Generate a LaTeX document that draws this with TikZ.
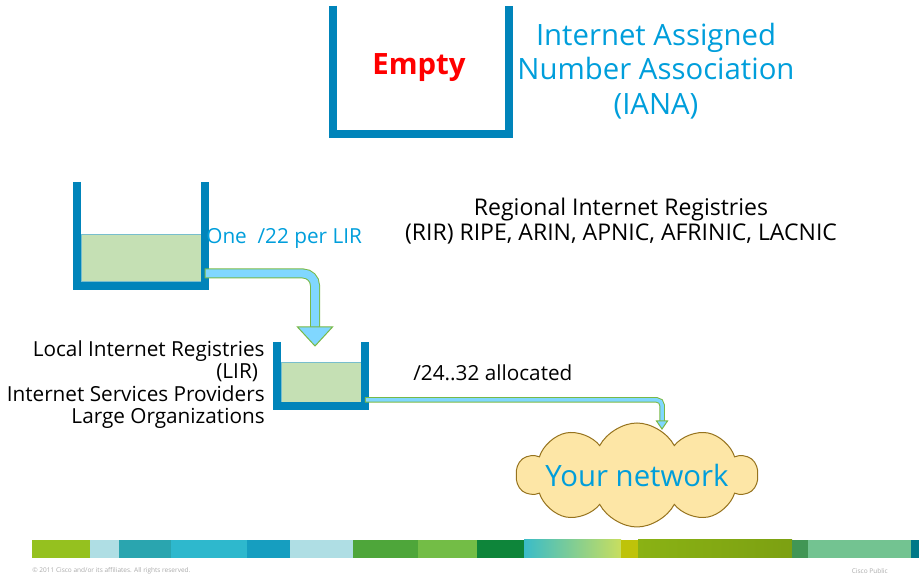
\documentclass[tikz,border=0pt]{standalone}
\usepackage{fontspec}
\setmainfont{Open Sans}
\usetikzlibrary{arrows.meta,positioning,calc,shapes.symbols}
\definecolor{bucketblue}{RGB}{0,132,186}
\definecolor{labelblue}{RGB}{0,158,219}
\definecolor{emptyred}{RGB}{255,0,0}
\definecolor{liquidgreen}{RGB}{197,224,180}
\definecolor{liquidedge}{RGB}{120,190,205}
\definecolor{pipefill}{RGB}{128,215,255}
\definecolor{pipeedge}{RGB}{120,185,70}
\definecolor{cloudfill}{RGB}{253,230,166}
\definecolor{cloudedge}{RGB}{150,115,30}
\definecolor{footgray}{RGB}{170,170,170}
\definecolor{barA}{RGB}{149,193,31}
\definecolor{barB}{RGB}{175,222,228}
\definecolor{barC}{RGB}{42,165,175}
\definecolor{barD}{RGB}{46,184,205}
\definecolor{barE}{RGB}{22,158,192}
\definecolor{barG}{RGB}{78,166,58}
\definecolor{barH}{RGB}{115,189,70}
\definecolor{barI}{RGB}{14,133,58}
\definecolor{barF}{RGB}{58,188,200}
\definecolor{barFF}{RGB}{200,222,95}
\definecolor{barJ}{RGB}{190,195,10}
\definecolor{barK}{RGB}{138,178,20}
\definecolor{barL}{RGB}{65,150,85}
\definecolor{barM}{RGB}{115,195,145}
\definecolor{barN}{RGB}{0,120,135}
\begin{document}
\begin{tikzpicture}[
  every node/.style={inner sep=0pt},
  big/.style={font=\fontsize{16.7}{19.8}\selectfont},
  mid/.style={font=\fontsize{13.1}{14.7}\selectfont},
  small/.style={font=\fontsize{11.8}{12.8}\selectfont},
  wall/.style={draw=bucketblue,line width=0.16cm},
  liquid/.style={fill=liquidgreen,draw=liquidedge,line width=0.02cm},
  pipe/.style={draw=pipeedge,line width=0.02cm,double=pipefill,double distance=0.16cm,line cap=rect,rounded corners=0.24cm},
  thinpipe/.style={pipe,double distance=0.07cm,rounded corners=0.1cm},
  pipehead/.style={fill=pipefill,draw=pipeedge,line width=0.02cm},
  foot/.style={text=footgray,font=\fontsize{3.7}{4.5}\selectfont}]
\useasboundingbox (0,0) rectangle (18.38,-11.5);
% IANA bucket
\node[minimum width=3.36cm,minimum height=2.48cm] (iana) at (8.42,-1.36) {};
\node[text=emptyred,font=\fontsize{16.7}{19.8}\selectfont\bfseries] (empty) at (8.38,-1.36) {Empty};
\draw[wall] ([xshift=-0.08cm]iana.north west) -- ([shift={(-0.08,-0.08)}]iana.south west) -- ([shift={(0.08,-0.08)}]iana.south east) -- ([xshift=0.08cm]iana.north east);
\node[big,text=labelblue,align=center] (ianatext) at (13.12,-1.42) {Internet Assigned\\Number Association\\(IANA)};
% RIR bucket
\node[liquid,minimum width=2.4cm,minimum height=0.94cm] (rirfill) at (2.82,-5.17) {};
\draw[wall] (1.54,-3.64) |- (4.10,-5.72) -- (4.10,-3.64);
\node[small,text=labelblue,anchor=west] (onelir) at (4.12,-4.76) {One\ \ /22 per LIR};
\node[mid,align=center] (rirtext) at (12.42,-4.42) {Regional Internet Registries\\(RIR) RIPE, ARIN, APNIC, AFRINIC, LACNIC};
% LIR bucket
\node[liquid,minimum width=1.6cm,minimum height=0.8cm] (lirfill) at (6.42,-7.66) {};
\draw[wall] (5.54,-6.84) |- (7.30,-8.13) -- (7.30,-6.84);
\node[small,align=right,anchor=east] (lirtext) at (5.30,-7.69) {Local Internet Registries\\(LIR)\rule{3.8pt}{0pt}\\Internet Services Providers\\Large Organizations};
\node[small,anchor=west] (alloc) at (8.26,-7.46) {/24..32 allocated};
% your network
\node[cloud,cloud puffs=10,cloud puff arc=125,cloud ignores aspect,draw=cloudedge,fill=cloudfill,line width=0.02cm,minimum width=4.82cm,minimum height=2.08cm] (net) at (12.74,-9.5) {};
\node[big,text=labelblue] (nettext) at (net.center) {Your network};
% pipes
\coordinate (drop) at (6.30,-6.92);
\coordinate (inlet) at (13.24,-8.58);
\draw[pipe] ([shift={(0.16,-0.30)}]rirfill.east) -| ([yshift=0.38cm]drop);
\draw[pipehead] (drop) -- ++(-0.35,0.38) -- ++(0.7,0) -- cycle;
\draw[thinpipe] ([shift={(0.12,-0.34)}]lirfill.east) -| ([yshift=0.16cm]inlet);
\draw[pipehead] (inlet) -- ++(-0.11,0.16) -- ++(0.22,0) -- cycle;
% colour bar
\fill[barA] (0.64,-10.8) rectangle (1.80,-11.16);
\fill[barB] (1.80,-10.8) rectangle (2.38,-11.16);
\fill[barC] (2.38,-10.8) rectangle (3.42,-11.16);
\fill[barD] (3.42,-10.8) rectangle (4.94,-11.16);
\fill[barE] (4.94,-10.8) rectangle (5.80,-11.16);
\fill[barB] (5.80,-10.8) rectangle (7.06,-11.16);
\fill[barG] (7.06,-10.8) rectangle (8.36,-11.16);
\fill[barH] (8.36,-10.8) rectangle (9.54,-11.16);
\fill[barI] (9.54,-10.8) rectangle (10.48,-11.16);
\shade[left color=barF,right color=barFF] (10.48,-10.8) rectangle (12.42,-11.16);
\fill[barJ] (12.42,-10.8) rectangle (12.76,-11.16);
\shade[left color=barK,right color=barK!90!black] (12.76,-10.8) rectangle (15.84,-11.16);
\fill[barL] (15.84,-10.8) rectangle (16.16,-11.16);
\fill[barM] (16.16,-10.8) rectangle (18.22,-11.16);
\fill[barN] (18.22,-10.8) rectangle (18.38,-11.16);
% footer
\node[foot,anchor=west] (copy) at (0.64,-11.42) {© 2011 Cisco and/or its affiliates. All rights reserved.};
\node[foot,anchor=east] (public) at (17.76,-11.42) {Cisco Public};
\end{tikzpicture}
\end{document}
